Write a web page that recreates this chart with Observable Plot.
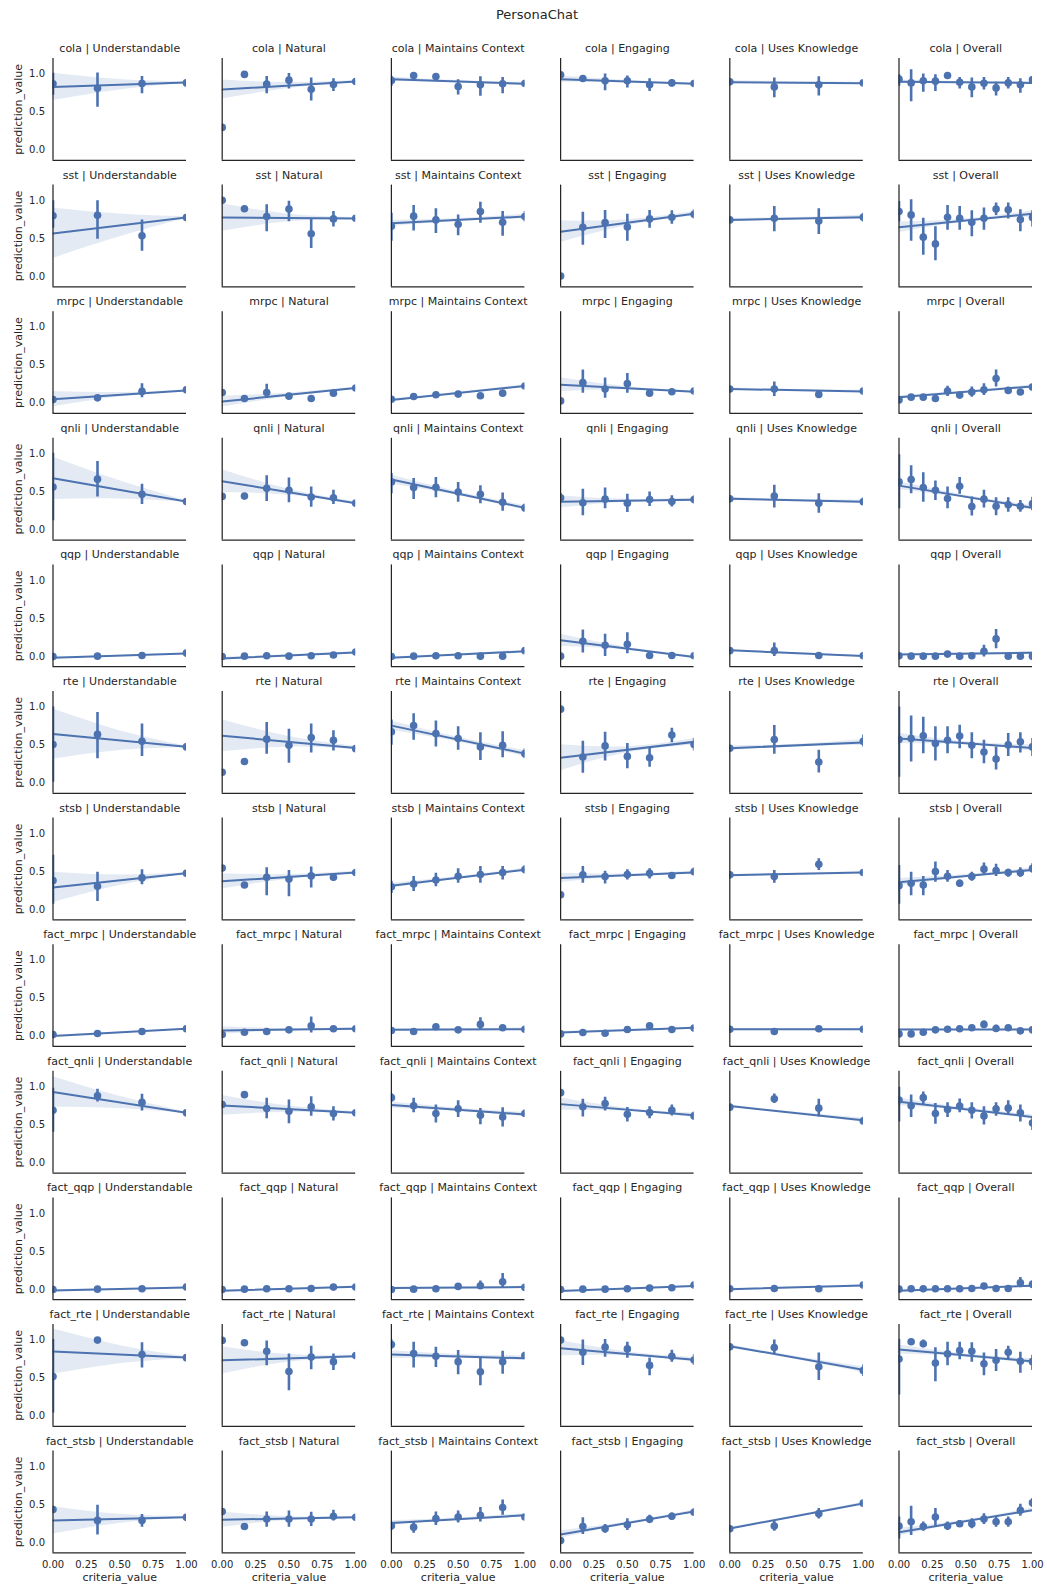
<!DOCTYPE html>
<html><head><meta charset="utf-8">
<script src="https://cdn.jsdelivr.net/npm/d3@7"></script>
<script src="https://cdn.jsdelivr.net/npm/@observablehq/plot@0.6"></script>
<style>
body{margin:0;background:#fff;font-family:"DejaVu Sans",sans-serif;overflow:hidden;}
#wrap{position:relative;width:1047px;height:1584px;}
#title{position:absolute;top:6px;left:537px;transform:translateX(-50%);font-size:13px;line-height:18px;color:#262626;white-space:nowrap;}
#chart{position:absolute;top:30px;left:0;}
</style></head><body>
<div id="wrap"><div id="title">PersonaChat</div><div id="chart"></div></div>
<script>
const tasks = ["cola","sst","mrpc","qnli","qqp","rte","stsb","fact_mrpc","fact_qnli","fact_qqp","fact_rte","fact_stsb"];
const criteria = ["Understandable","Natural","Maintains Context","Engaging","Uses Knowledge","Overall"];
const criteriaLevels = [
  [0,1/3,2/3,1],
  [0,1/6,2/6,3/6,4/6,5/6,1],
  [0,1/6,2/6,3/6,4/6,5/6,1],
  [0,1/6,2/6,3/6,4/6,5/6,1],
  [0,1/3,2/3,1],
  [0,1/11,2/11,3/11,4/11,5/11,6/11,7/11,8/11,9/11,10/11,1]
];
const xTicks = [0,0.25,0.5,0.75,1];
const yTicks = [0,0.5,1];

// point estimates: [mean] or [mean, ciLow, ciHigh], one list per criterion
const cola_pts = [
  [[0.871,0.72,1.01],[0.813,0.564,1.013],[0.876,0.742,0.969],[0.884]],
  [[0.298],[0.996],[0.867,0.742,0.969],[0.92,0.804,1.009],[0.80,0.644,0.947],[0.862,0.769,0.938],[0.902]],
  [[0.916,0.84,0.97],[0.982],[0.969],[0.836,0.724,0.924],[0.858,0.707,0.964],[0.871,0.742,0.956],[0.876,0.84,0.92]],
  [[0.991],[0.942,0.9,0.98],[0.911,0.782,1.0],[0.911,0.818,0.973],[0.858,0.769,0.938],[0.884,0.83,0.93],[0.876,0.83,0.92]],
  [[0.898],[0.831,0.689,0.947],[0.858,0.711,0.964],[0.884,0.85,0.915]],
  [[0.933,0.84,0.99],[0.884,0.636,1.058],[0.911,0.76,1.0],[0.907,0.769,0.991],[0.982],[0.893,0.804,0.956],[0.831,0.689,0.947],[0.88,0.791,0.956],[0.818,0.711,0.893],[0.884,0.804,0.956],[0.858,0.747,0.938],[0.924,0.88,0.96]]
];
const sst_pts = [
  [[0.80,0.636,1.0],[0.809,0.493,1.0],[0.538,0.333,0.747],[0.778]],
  [[1.004],[0.893],[0.791,0.591,0.947],[0.889,0.724,0.991],[0.564,0.369,0.76],[0.76,0.653,0.858],[0.769]],
  [[0.662,0.467,0.836],[0.796,0.6,0.938],[0.747,0.569,0.893],[0.689,0.538,0.813],[0.858,0.702,0.978],[0.716,0.533,0.858],[0.791,0.72,0.858]],
  [[0.009],[0.649,0.413,0.849],[0.711,0.502,0.871],[0.653,0.467,0.822],[0.76,0.636,0.871],[0.782,0.689,0.867],[0.822,0.76,0.88]],
  [[0.747],[0.769,0.591,0.924],[0.733,0.556,0.893],[0.782,0.72,0.836]],
  [[0.858,0.72,0.99],[0.813,0.467,1.013],[0.52,0.28,0.769],[0.431,0.209,0.658],[0.782,0.609,0.938],[0.769,0.609,0.924],[0.716,0.524,0.867],[0.769,0.609,0.902],[0.889,0.804,0.969],[0.88,0.76,0.969],[0.751,0.591,0.88],[0.778,0.653,0.867]]
];
const mrpc_pts = [
  [[0.049],[0.071],[0.156,0.071,0.258],[0.178]],
  [[0.142],[0.062],[0.142,0.062,0.249],[0.093],[0.062],[0.133,0.1,0.16],[0.2]],
  [[0.053],[0.089],[0.111],[0.12],[0.098],[0.133],[0.227]],
  [[0.031],[0.271,0.133,0.436],[0.187,0.067,0.333],[0.258,0.133,0.391],[0.133,0.1,0.178],[0.151],[0.16]],
  [[0.187],[0.187,0.089,0.28],[0.116],[0.16]],
  [[0.044],[0.08],[0.08],[0.062],[0.16,0.089,0.222],[0.107],[0.147,0.08,0.213],[0.178,0.102,0.258],[0.324,0.213,0.436],[0.169],[0.147],[0.213]]
];
const qnli_pts = [
  [[0.564,0.12,1.009],[0.667,0.431,0.898],[0.467,0.333,0.6],[0.373]],
  [[0.44],[0.444],[0.547,0.373,0.711],[0.52,0.356,0.684],[0.431,0.298,0.564],[0.422,0.333,0.52],[0.351]],
  [[0.631,0.476,0.742],[0.556,0.4,0.676],[0.56,0.422,0.689],[0.498,0.364,0.622],[0.467,0.342,0.582],[0.364,0.244,0.484],[0.289,0.23,0.34]],
  [[0.422,0.36,0.475],[0.356,0.187,0.533],[0.404,0.276,0.551],[0.351,0.227,0.467],[0.4,0.307,0.498],[0.373,0.3,0.45],[0.4,0.34,0.45]],
  [[0.409],[0.444,0.289,0.587],[0.351,0.218,0.476],[0.369,0.32,0.42]],
  [[0.631,0.276,0.987],[0.662,0.476,0.844],[0.556,0.364,0.751],[0.52,0.387,0.644],[0.413,0.276,0.564],[0.573,0.467,0.689],[0.307,0.182,0.431],[0.404,0.289,0.52],[0.311,0.187,0.422],[0.329,0.231,0.422],[0.311,0.231,0.387],[0.342,0.25,0.43]]
];
const qqp_pts = [
  [[0.0],[0.004],[0.013],[0.044]],
  [[0.0],[0.004],[0.009],[0.004],[0.009],[0.018],[0.058]],
  [[0.0],[0.004],[0.009],[0.009],[0.004],[0.004],[0.076]],
  [[0.004],[0.2,0.044,0.347],[0.147,0.0,0.293],[0.16,0.036,0.311],[0.013],[0.013],[0.009]],
  [[0.076],[0.076,0.0,0.178],[0.013],[0.009]],
  [[0.009],[0.004],[0.004],[0.004],[0.031],[0.004],[0.009],[0.067,-0.009,0.147],[0.231,0.102,0.356],[0.004],[0.004],[0.004]]
];
const rte_pts = [
  [[0.507,0.009,1.0],[0.64,0.32,0.929],[0.551,0.351,0.778],[0.476]],
  [[0.142],[0.284],[0.578,0.378,0.796],[0.498,0.262,0.707],[0.6,0.396,0.778],[0.564,0.422,0.689],[0.453]],
  [[0.676,0.498,0.831],[0.756,0.564,0.911],[0.653,0.476,0.818],[0.587,0.431,0.742],[0.476,0.298,0.662],[0.498,0.333,0.676],[0.387,0.32,0.453]],
  [[0.973],[0.342,0.129,0.551],[0.489,0.289,0.667],[0.351,0.187,0.52],[0.333,0.209,0.467],[0.631,0.529,0.72],[0.507,0.422,0.591]],
  [[0.458],[0.573,0.378,0.756],[0.276,0.133,0.431],[0.551,0.476,0.631]],
  [[0.573,0.076,1.0],[0.587,0.276,0.884],[0.622,0.387,0.867],[0.52,0.289,0.742],[0.564,0.387,0.742],[0.618,0.453,0.76],[0.498,0.32,0.662],[0.409,0.253,0.564],[0.316,0.173,0.476],[0.502,0.351,0.653],[0.542,0.396,0.662],[0.476,0.351,0.587]]
];
const stsb_pts = [
  [[0.382,0.071,0.716],[0.307,0.107,0.493],[0.418,0.329,0.524],[0.48]],
  [[0.547],[0.324],[0.427,0.182,0.551],[0.404,0.169,0.516],[0.444,0.284,0.56],[0.427,0.373,0.476],[0.489]],
  [[0.302,0.213,0.373],[0.338,0.24,0.436],[0.391,0.302,0.48],[0.44,0.347,0.538],[0.462,0.347,0.569],[0.489,0.391,0.569],[0.529,0.47,0.58]],
  [[0.196],[0.458,0.347,0.569],[0.436,0.338,0.507],[0.462,0.391,0.524],[0.48,0.404,0.538],[0.449],[0.498,0.447,0.551]],
  [[0.458],[0.436,0.347,0.516],[0.596,0.516,0.671],[0.489]],
  [[0.316,0.071,0.582],[0.347,0.182,0.493],[0.324,0.182,0.436],[0.502,0.36,0.627],[0.44,0.36,0.516],[0.347,0.293,0.391],[0.436,0.373,0.493],[0.533,0.462,0.613],[0.516,0.436,0.596],[0.489,0.427,0.533],[0.484,0.427,0.551],[0.542,0.48,0.604]]
];
const fact_mrpc_pts = [
  [[0.022],[0.036],[0.062],[0.098]],
  [[0.022],[0.053],[0.062],[0.084],[0.138,0.044,0.253],[0.098],[0.098]],
  [[0.076],[0.062],[0.124],[0.084],[0.156,0.076,0.244],[0.111],[0.093]],
  [[0.031],[0.049],[0.04],[0.089],[0.138],[0.089],[0.107]],
  [[0.093],[0.062],[0.098],[0.093]],
  [[0.031],[0.031],[0.053],[0.084],[0.093],[0.098],[0.111],[0.156,0.102,0.2],[0.102,0.058,0.147],[0.111],[0.071],[0.084]]
];
const fact_qnli_pts = [
  [[0.693,0.404,0.982],[0.884,0.8,0.969],[0.796,0.684,0.902],[0.658]],
  [[0.769],[0.898],[0.716,0.582,0.849],[0.68,0.516,0.827],[0.738,0.613,0.871],[0.649,0.551,0.738],[0.658]],
  [[0.858,0.8,0.91],[0.751,0.658,0.849],[0.649,0.524,0.76],[0.711,0.596,0.818],[0.627,0.502,0.716],[0.604,0.471,0.724],[0.649,0.6,0.7]],
  [[0.924],[0.738,0.604,0.836],[0.782,0.684,0.862],[0.64,0.538,0.729],[0.662,0.582,0.738],[0.693,0.618,0.76],[0.618,0.56,0.67]],
  [[0.733],[0.844,0.782,0.907],[0.72,0.604,0.836],[0.551,0.5,0.6]],
  [[0.827,0.538,0.996],[0.751,0.596,0.893],[0.858,0.76,0.933],[0.649,0.507,0.782],[0.702,0.596,0.791],[0.747,0.658,0.84],[0.693,0.578,0.791],[0.618,0.498,0.738],[0.711,0.613,0.791],[0.72,0.627,0.818],[0.658,0.538,0.76],[0.524,0.427,0.604]]
];
const fact_qqp_pts = [
  [[0.0],[0.004],[0.009],[0.031]],
  [[0.0],[0.004],[0.009],[0.009],[0.013],[0.031],[0.031]],
  [[0.0],[0.004],[0.009],[0.04],[0.049,0.0,0.11],[0.102,0.013,0.209],[0.027]],
  [[0.0],[0.004],[0.004],[0.009],[0.018],[0.022],[0.058]],
  [[0.009],[0.013],[0.009],[0.058]],
  [[0.004],[0.009],[0.009],[0.009],[0.009],[0.009],[0.013],[0.044],[0.013],[0.013],[0.089,0.022,0.156],[0.067,0.02,0.11]]
];
const fact_rte_pts = [
  [[0.52,0.04,1.009],[1.0],[0.809,0.631,0.964],[0.769]],
  [[0.996],[0.964],[0.853,0.662,0.987],[0.587,0.333,0.818],[0.778,0.609,0.92],[0.716,0.6,0.818],[0.796]],
  [[0.942,0.88,1.0],[0.822,0.631,0.973],[0.787,0.64,0.907],[0.716,0.542,0.862],[0.582,0.4,0.764],[0.716,0.551,0.853],[0.796,0.75,0.84]],
  [[1.0],[0.84,0.667,1.0],[0.907,0.773,1.009],[0.884,0.76,0.973],[0.667,0.529,0.764],[0.787,0.707,0.867],[0.738,0.667,0.809]],
  [[0.911],[0.902,0.809,1.0],[0.649,0.467,0.831],[0.6,0.52,0.676]],
  [[0.751,0.276,1.009],[0.978],[0.951,0.9,1.0],[0.698,0.453,0.898],[0.818,0.662,0.973],[0.862,0.742,0.973],[0.853,0.707,0.964],[0.689,0.529,0.831],[0.733,0.587,0.876],[0.84,0.742,0.92],[0.72,0.564,0.84],[0.716,0.6,0.8]]
];
const fact_stsb_pts = [
  [[0.436],[0.293,0.102,0.493],[0.293,0.204,0.369],[0.333]],
  [[0.409],[0.213],[0.311,0.204,0.404],[0.311,0.204,0.418],[0.311,0.213,0.4],[0.347,0.284,0.427],[0.333]],
  [[0.222,0.16,0.27],[0.204,0.124,0.271],[0.316,0.227,0.404],[0.338,0.258,0.418],[0.36,0.271,0.462],[0.462,0.36,0.56],[0.338]],
  [[0.027],[0.213,0.107,0.329],[0.182,0.124,0.24],[0.236,0.16,0.316],[0.307,0.258,0.36],[0.347,0.293,0.391],[0.4,0.347,0.449]],
  [[0.182],[0.218,0.151,0.28],[0.382,0.311,0.449],[0.52]],
  [[0.218,0.049,0.338],[0.276,0.093,0.48],[0.213,0.151,0.271],[0.338,0.213,0.449],[0.218,0.16,0.271],[0.249,0.204,0.293],[0.249,0.182,0.316],[0.311,0.24,0.382],[0.276,0.204,0.338],[0.276,0.204,0.338],[0.427,0.347,0.507],[0.524,0.462,0.582]]
];

// regression fits: [y at x=0, y at x=1, band half-width at x=0, x=0.5, x=1]
const cola_fit = [[0.831,0.889,0.18,0.07,0.01],[0.796,0.902,0.125,0.04,0.012],[0.933,0.871,0.03,0.015,0.02],[0.933,0.871,0.04,0.015,0.015],[0.893,0.88,0.02,0.012,0.012],[0.898,0.884,0.025,0.012,0.02]];
const sst_fit = [[0.569,0.778,0.33,0.15,0.01],[0.778,0.764,0.18,0.05,0.015],[0.702,0.791,0.04,0.02,0.03],[0.591,0.827,0.14,0.04,0.03],[0.747,0.782,0.02,0.015,0.03],[0.649,0.827,0.07,0.02,0.04]];
const mrpc_fit = [[0.053,0.169,0.1,0.03,0.01],[0.022,0.2,0.07,0.025,0.015],[0.044,0.227,0.015,0.01,0.02],[0.244,0.151,0.09,0.02,0.015],[0.187,0.156,0.015,0.01,0.015],[0.08,0.222,0.02,0.01,0.02]];
const qnli_fit = [[0.68,0.373,0.28,0.12,0.01],[0.64,0.351,0.15,0.04,0.02],[0.662,0.289,0.06,0.025,0.03],[0.369,0.396,0.08,0.02,0.02],[0.409,0.369,0.02,0.012,0.025],[0.582,0.289,0.05,0.02,0.03]];
const qqp_fit = [[-0.018,0.04,0.012,0.006,0.006],[-0.027,0.053,0.015,0.006,0.012],[-0.018,0.067,0.012,0.006,0.015],[0.213,-0.009,0.08,0.02,0.015],[0.08,0.004,0.012,0.006,0.008],[0.027,0.049,0.015,0.008,0.015]];
const rte_fit = [[0.644,0.476,0.33,0.13,0.01],[0.622,0.462,0.21,0.07,0.02],[0.756,0.387,0.06,0.03,0.04],[0.333,0.542,0.17,0.04,0.04],[0.458,0.533,0.03,0.015,0.04],[0.587,0.462,0.07,0.02,0.04]];
const stsb_fit = [[0.293,0.48,0.2,0.07,0.01],[0.373,0.489,0.1,0.03,0.015],[0.316,0.524,0.03,0.015,0.02],[0.418,0.489,0.06,0.015,0.015],[0.453,0.489,0.012,0.008,0.012],[0.36,0.524,0.05,0.02,0.025]];
const fact_mrpc_fit = [[0.004,0.098,0.01,0.006,0.006],[0.076,0.098,0.05,0.015,0.015],[0.084,0.093,0.015,0.01,0.015],[0.049,0.111,0.012,0.008,0.012],[0.093,0.093,0.008,0.006,0.008],[0.089,0.089,0.01,0.006,0.01]];
const fact_qnli_fit = [[0.933,0.658,0.2,0.08,0.01],[0.756,0.658,0.13,0.04,0.015],[0.76,0.636,0.04,0.02,0.03],[0.773,0.627,0.08,0.02,0.03],[0.747,0.56,0.015,0.012,0.03],[0.804,0.604,0.05,0.02,0.03]];
const fact_qqp_fit = [[-0.013,0.027,0.01,0.005,0.005],[-0.018,0.036,0.012,0.006,0.01],[0.018,0.031,0.012,0.008,0.012],[-0.022,0.044,0.012,0.006,0.012],[0.004,0.053,0.008,0.006,0.01],[-0.018,0.049,0.012,0.006,0.012]];
const fact_rte_fit = [[0.849,0.769,0.3,0.12,0.01],[0.733,0.787,0.18,0.05,0.015],[0.809,0.76,0.05,0.025,0.03],[0.893,0.742,0.1,0.025,0.03],[0.92,0.609,0.02,0.02,0.04],[0.876,0.72,0.06,0.02,0.035]];
const fact_stsb_fit = [[0.293,0.333,0.18,0.06,0.01],[0.302,0.333,0.1,0.025,0.015],[0.258,0.36,0.03,0.015,0.025],[0.107,0.409,0.05,0.015,0.02],[0.187,0.516,0.012,0.01,0.015],[0.138,0.427,0.05,0.015,0.03]];

const taskPoints = [cola_pts, sst_pts, mrpc_pts, qnli_pts, qqp_pts, rte_pts, stsb_pts, fact_mrpc_pts, fact_qnli_pts, fact_qqp_pts, fact_rte_pts, fact_stsb_pts];
const taskFits = [cola_fit, sst_fit, mrpc_fit, qnli_fit, qqp_fit, rte_fit, stsb_fit, fact_mrpc_fit, fact_qnli_fit, fact_qqp_fit, fact_rte_fit, fact_stsb_fit];

const points = [], lines = [], bands = [], panels = [];
tasks.forEach((task, ti) => criteria.forEach((crit, ci) => {
  const key = task + "|" + crit;
  panels.push({task, crit, ti, ci});
  taskPoints[ti][ci].forEach((p, k) => {
    points.push({task, crit, x: criteriaLevels[ci][k], y: p[0], lo: p.length > 1 ? p[1] : null, hi: p.length > 1 ? p[2] : null});
  });
  const [y0, y1, w0, wm, w1] = taskFits[ti][ci];
  const ym = (y0 + y1) / 2;
  lines.push({task, crit, key, x: 0, y: y0}, {task, crit, key, x: 1, y: y1});
  bands.push({task, crit, key, x: 0, lo: y0 - w0, hi: y0 + w0},
             {task, crit, key, x: 0.5, lo: ym - wm, hi: ym + wm},
             {task, crit, key, x: 1, lo: y1 - w1, hi: y1 + w1});
}));

const blue = "#4c72b0", ink = "#262626";
const Y0 = -0.135, Y1 = 1.205;
const F = {fx: "crit", fy: "task"};

const chart = Plot.plot({
  width: 1047, height: 1554,
  marginLeft: 52.5, marginRight: 15, marginTop: 28, marginBottom: 31.6,
  style: {fontFamily: "DejaVu Sans", fontSize: "10px", color: ink, background: "#fff", overflow: "visible"},
  fx: {domain: criteria, paddingInner: 0.211, paddingOuter: 0, round: false, axis: null, label: null},
  fy: {domain: tasks, paddingInner: 0.196, paddingOuter: 0, round: false, axis: null, label: null},
  x: {domain: [0, 1], ticks: xTicks, tickFormat: ".2f", tickSize: 0, tickPadding: 7.5, label: null},
  y: {domain: [Y0, Y1], ticks: yTicks, tickFormat: ".1f", tickSize: 0, tickPadding: 8, label: null},
  marks: [
    Plot.dot(points, {...F, x: "x", y: "y", r: 3.8, fill: blue, clip: true}),
    Plot.areaY(bands, {...F, x: "x", y1: "lo", y2: "hi", z: "key", fill: blue, fillOpacity: 0.15, curve: "natural", clip: true}),
    Plot.ruleX(points.filter(d => d.lo != null), {...F, x: "x", y1: "lo", y2: "hi", stroke: blue, strokeWidth: 2.6, clip: true}),
    Plot.line(lines, {...F, x: "x", y: "y", z: "key", stroke: blue, strokeWidth: 2, clip: true}),
    Plot.ruleX(panels, {...F, x: () => 0, stroke: ink, strokeWidth: 1.25}),
    Plot.ruleY(panels, {...F, y: () => Y0, stroke: ink, strokeWidth: 1.25}),
    Plot.text(panels, {...F, text: d => `${d.task} | ${d.crit}`, frameAnchor: "top", lineAnchor: "middle", dy: -10, fontSize: 11, fill: ink}),
    Plot.text(panels.filter(d => d.ci === 0), {...F, text: () => "prediction_value", frameAnchor: "left", rotate: -90, dx: -35, textAnchor: "middle", fontSize: 11, fill: ink}),
    Plot.text(panels.filter(d => d.ti === tasks.length - 1), {...F, text: () => "criteria_value", frameAnchor: "bottom", lineAnchor: "middle", dy: 25, fontSize: 11, fill: ink})
  ]
});
document.getElementById("chart").appendChild(chart);
</script>
</body></html>
